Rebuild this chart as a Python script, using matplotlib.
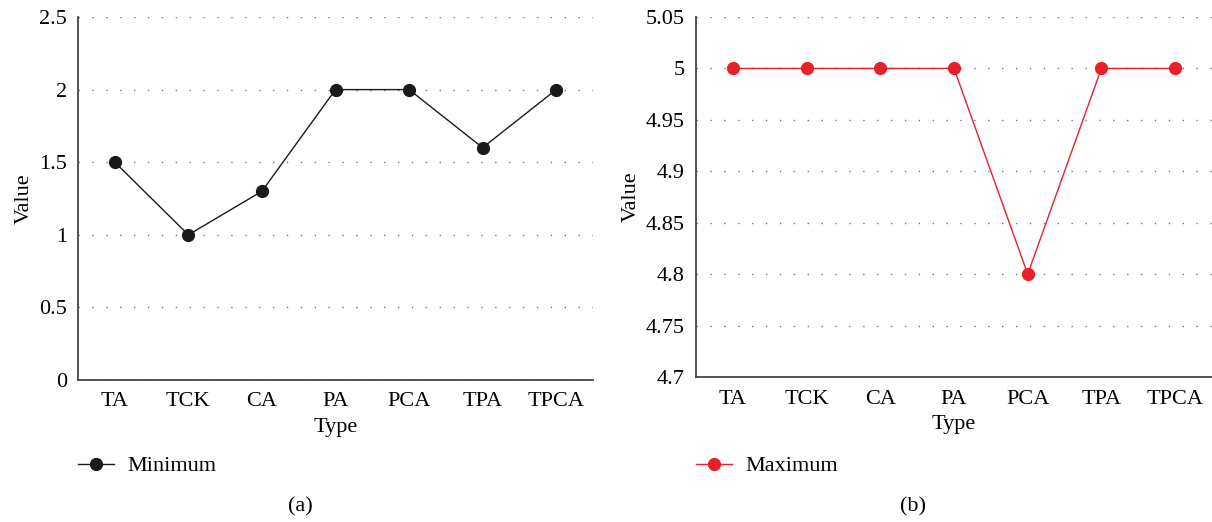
import matplotlib.pyplot as plt
import numpy as np

types = ['TA', 'TCK', 'CA', 'PA', 'PCA', 'TPA', 'TPCA']
minimum = [1.5, 1.0, 1.3, 2.0, 2.0, 1.6, 2.0]
maximum = [5.0, 5.0, 5.0, 5.0, 4.8, 5.0, 5.0]

plt.rcParams['font.family'] = ['Liberation Serif', 'DejaVu Serif']
fs = 16

fig = plt.figure(figsize=(12.12, 5.22), dpi=100)
W, H = 1212.0, 522.0

def setup(ax, yticks, ylim):
  x = np.arange(len(types))
  ax.set_xlim(-0.5, len(types) - 0.5)
  ax.set_ylim(*ylim)
  ax.set_xticks(x)
  ax.set_xticklabels(types, fontsize=fs)
  ax.set_yticks(yticks)
  ax.set_yticklabels(['%g' % v for v in yticks], fontsize=fs)
  ax.tick_params(axis='x', length=0, pad=9)
  ax.tick_params(axis='y', length=0, pad=8)
  for s in ['top', 'right']:
    ax.spines[s].set_visible(False)
  for s in ['left', 'bottom']:
    ax.spines[s].set_color('#444444')
    ax.spines[s].set_linewidth(1.3)
  ax.yaxis.grid(True, linestyle=(0, (1, 9)), color='#777777', linewidth=1.0)
  ax.set_axisbelow(True)
  ax.set_xlabel('Type', fontsize=fs, labelpad=5)
  ax.set_ylabel('Value', fontsize=fs, labelpad=4)

# panel (a)
ax1 = fig.add_axes([78/W, 1-380/H, (593-78)/W, (380-17)/H])
ax1.plot(np.arange(len(types)), minimum, color='#1a1a1a', lw=1.0, marker='o', ms=8.5, label='Minimum', clip_on=False)
setup(ax1, [0, 0.5, 1, 1.5, 2, 2.5], (0, 2.5))
ax1.legend(loc='center left', bbox_to_anchor=(78/W, 1-466/H), bbox_transform=fig.transFigure,
           frameon=False, fontsize=fs, handlelength=1.6, handletextpad=0.6, borderpad=0, borderaxespad=0)
fig.text(300/W, 1-507/H, '(a)', fontsize=fs, ha='center', va='center')

# panel (b)
ax2 = fig.add_axes([696/W, 1-377/H, (1212-696)/W, (377-17)/H])
ax2.plot(np.arange(len(types)), maximum, color='#e8202a', lw=1.0, marker='o', ms=8.5, label='Maximum', clip_on=False)
setup(ax2, [4.7, 4.75, 4.8, 4.85, 4.9, 4.95, 5.0, 5.05], (4.7, 5.05))
ax2.legend(loc='center left', bbox_to_anchor=(696/W, 1-466/H), bbox_transform=fig.transFigure,
           frameon=False, fontsize=fs, handlelength=1.6, handletextpad=0.6, borderpad=0, borderaxespad=0)
fig.text(913/W, 1-507/H, '(b)', fontsize=fs, ha='center', va='center')

plt.savefig('out.png', dpi=100)
plt.close()
